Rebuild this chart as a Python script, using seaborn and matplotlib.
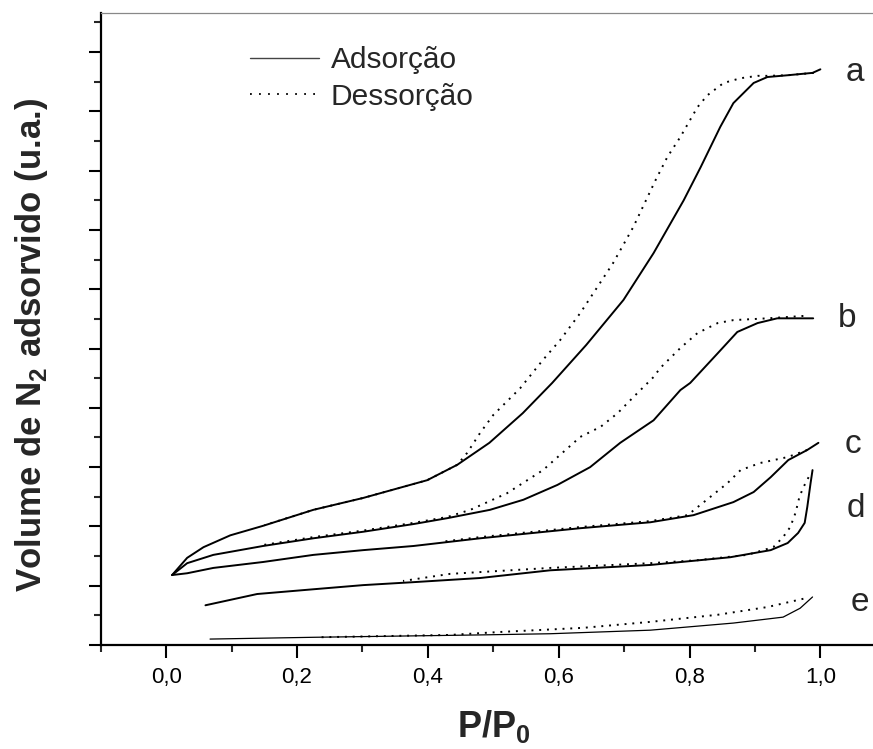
import numpy as np
import pandas as pd
import seaborn as sns
import matplotlib.pyplot as plt
from matplotlib.lines import Line2D

# isotermas de N2 (u.a.)
a_ads_x = [0.009, 0.032, 0.057, 0.098, 0.148, 0.225, 0.301, 0.399, 0.445, 0.494, 0.545, 0.590, 0.642, 0.699, 0.745, 0.791, 0.817, 0.847, 0.867, 0.898, 0.919, 0.950, 0.988, 1.000]
a_ads_y = [1.18, 1.47, 1.65, 1.85, 2.01, 2.28, 2.48, 2.78, 3.04, 3.41, 3.91, 4.42, 5.06, 5.82, 6.61, 7.50, 8.06, 8.74, 9.14, 9.48, 9.58, 9.61, 9.65, 9.71]
a_des_x = [0.990, 0.950, 0.919, 0.904, 0.878, 0.852, 0.827, 0.812, 0.786, 0.766, 0.748, 0.714, 0.683, 0.633, 0.602, 0.576, 0.541, 0.500, 0.480, 0.460, 0.445, 0.399, 0.301, 0.225, 0.150]
a_des_y = [9.65, 9.61, 9.60, 9.60, 9.56, 9.48, 9.27, 9.07, 8.57, 8.23, 7.84, 7.05, 6.44, 5.60, 5.14, 4.81, 4.33, 3.88, 3.58, 3.24, 3.04, 2.78, 2.48, 2.28, 2.02]

b_ads_x = [0.009, 0.032, 0.072, 0.148, 0.225, 0.301, 0.378, 0.430, 0.495, 0.546, 0.598, 0.648, 0.694, 0.745, 0.786, 0.801, 0.843, 0.873, 0.904, 0.934, 0.989]
b_ads_y = [1.18, 1.38, 1.52, 1.67, 1.80, 1.91, 2.04, 2.14, 2.28, 2.45, 2.70, 3.00, 3.41, 3.79, 4.30, 4.42, 4.92, 5.28, 5.43, 5.51, 5.51]
b_des_x = [0.974, 0.919, 0.867, 0.843, 0.812, 0.786, 0.755, 0.745, 0.714, 0.690, 0.664, 0.633, 0.576, 0.521, 0.465, 0.430, 0.378, 0.301, 0.225, 0.150]
b_des_y = [5.55, 5.51, 5.48, 5.43, 5.26, 5.01, 4.67, 4.52, 4.18, 3.91, 3.68, 3.51, 2.95, 2.56, 2.28, 2.16, 2.06, 1.93, 1.82, 1.69]

c_ads_x = [0.009, 0.032, 0.072, 0.148, 0.225, 0.301, 0.378, 0.480, 0.633, 0.740, 0.806, 0.867, 0.898, 0.924, 0.951, 0.980, 0.997]
c_ads_y = [1.18, 1.21, 1.30, 1.40, 1.52, 1.60, 1.67, 1.80, 1.97, 2.07, 2.19, 2.41, 2.58, 2.83, 3.12, 3.29, 3.41]
c_des_x = [0.980, 0.950, 0.908, 0.878, 0.858, 0.832, 0.797, 0.740, 0.633, 0.480, 0.420]
c_des_y = [3.29, 3.17, 3.07, 2.95, 2.73, 2.50, 2.19, 2.09, 1.99, 1.82, 1.74]

d_ads_x = [0.060, 0.139, 0.225, 0.301, 0.378, 0.480, 0.587, 0.740, 0.862, 0.924, 0.950, 0.966, 0.976, 0.980, 0.985, 0.988]
d_ads_y = [0.67, 0.86, 0.94, 1.01, 1.06, 1.13, 1.26, 1.35, 1.48, 1.60, 1.72, 1.89, 2.06, 2.33, 2.73, 2.95]
d_des_x = [0.982, 0.974, 0.968, 0.962, 0.954, 0.943, 0.928, 0.888, 0.812, 0.740, 0.587, 0.434, 0.362]
d_des_y = [2.83, 2.66, 2.50, 2.23, 1.99, 1.82, 1.65, 1.52, 1.43, 1.38, 1.30, 1.20, 1.08]

e_ads_x = [0.067, 0.225, 0.480, 0.587, 0.740, 0.867, 0.943, 0.969, 0.988]
e_ads_y = [0.10, 0.13, 0.17, 0.19, 0.25, 0.37, 0.47, 0.62, 0.81]
e_des_x = [0.974, 0.919, 0.843, 0.740, 0.638, 0.511, 0.434, 0.231]
e_des_y = [0.78, 0.64, 0.51, 0.39, 0.29, 0.22, 0.17, 0.13]

curve_names = ['a', 'b', 'c', 'd', 'e']
label_x = [1.053, 1.041, 1.049, 1.055, 1.060]
label_y = [9.65, 5.51, 3.39, 2.31, 0.72]

xtick_vals = [0.0, 0.2, 0.4, 0.6, 0.8, 1.0]
xtick_labels = ['0,0', '0,2', '0,4', '0,6', '0,8', '1,0']

sns.set_style("ticks")
plt.rcParams['font.family'] = ['Liberation Sans', 'DejaVu Sans']
plt.rcParams['mathtext.fontset'] = 'custom'
plt.rcParams['mathtext.rm'] = 'Liberation Sans'
plt.rcParams['mathtext.bf'] = 'Liberation Sans:bold'

fig = plt.figure(figsize=(8.73, 7.49), dpi=100)
ax = fig.add_axes([100.8 / 873, 104 / 749, 785 / 873, 632 / 749])

dots = (0, (1, 3))
ads = [(a_ads_x, a_ads_y), (b_ads_x, b_ads_y), (c_ads_x, c_ads_y), (d_ads_x, d_ads_y), (e_ads_x, e_ads_y)]
des = [(a_des_x, a_des_y), (b_des_x, b_des_y), (c_des_x, c_des_y), (d_des_x, d_des_y), (e_des_x, e_des_y)]
for i, name in enumerate(curve_names):
    lw = 0.9 if name == 'e' else 1.4
    sns.lineplot(x=ads[i][0], y=ads[i][1], sort=False, estimator=None, color='black', lw=lw, ax=ax)
    sns.lineplot(x=des[i][0], y=des[i][1], sort=False, estimator=None, color='black', lw=1.4, linestyle=dots, ax=ax)
    ax.text(label_x[i], label_y[i], name, fontsize=24, ha='center', va='center')

ax.set_xlim(-0.1, 1.1)
ax.set_ylim(0, 10.66)
ax.set_xticks(xtick_vals)
ax.set_xticklabels(xtick_labels, fontsize=16)
ax.set_xticks([-0.1, 0.1, 0.3, 0.5, 0.7, 0.9], minor=True)
ax.set_yticks(np.arange(0, 11, 1))
ax.set_yticks(np.arange(0.5, 10.6, 1), minor=True)
ax.set_yticklabels([])
ax.tick_params(which='major', length=9, width=1.5, direction='out', pad=7, colors='black')
ax.tick_params(which='minor', length=5, width=1.5, direction='out')

for side in ['left', 'bottom']:
    ax.spines[side].set_linewidth(1.6)
    ax.spines[side].set_color('black')
ax.spines['top'].set_color('#888888')
ax.spines['top'].set_linewidth(0.9)
ax.spines['right'].set_visible(False)

ax.set_xlabel(r'$\mathbf{P/P_0}$', fontsize=26)
ax.xaxis.set_label_coords(0.5, -0.10)
ax.set_ylabel(r'Volume de N$_\mathbf{2}$ adsorvido (u.a.)', fontsize=25, fontweight='bold')
ax.yaxis.set_label_coords(-0.065, 0.475)

handles = [Line2D([], [], color='#444444', lw=1.0),
           Line2D([], [], color='black', lw=1.3, linestyle=(0, (1, 4)))]
ax.legend(handles, ['Adsorção', 'Dessorção'], fontsize=21.5, frameon=False,
          loc='upper left', bbox_to_anchor=(0.175, 0.966), handlelength=2.3,
          handletextpad=0.4, labelspacing=0.28, borderaxespad=0)

fig.savefig('out.png', dpi=100)
